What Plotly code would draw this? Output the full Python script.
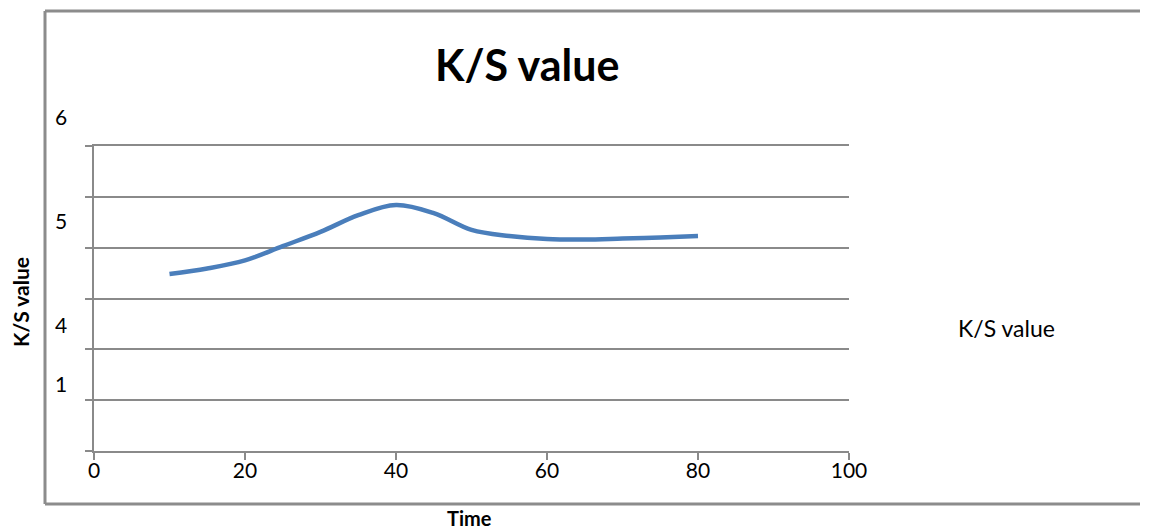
import plotly.graph_objects as go

# Data
time_vals = [10, 15, 20, 25, 30, 35, 40, 45, 50, 55, 60, 65, 70, 75, 80]
ks_vals = [3.48, 3.59, 3.75, 4.03, 4.31, 4.64, 4.84, 4.68, 4.35, 4.23, 4.17, 4.16, 4.18, 4.20, 4.23]
x_ticks = [0, 20, 40, 60, 80, 100]
y_label_text = ["6", "5", "4", "1"]
y_label_pos = [6.58, 4.54, 2.48, 1.32]
series_name = "K/S value"

W, H = 1149, 529
L, R, T, B = 94, 849, 146, 451
FONT = "Lato"
GRID = "#8a8a8a"
Y_MAX = 6

fig = go.Figure()
fig.add_trace(go.Scatter(x=time_vals, y=ks_vals, mode="lines", name=series_name,
                         line=dict(color="#4a7ebb", width=4.5, shape="spline", smoothing=1.0),
                         showlegend=False))

def px_x(p):
    return (p - L) / (R - L)

def px_y(p):
    return (B - p) / (B - T)

annotations = []
for t, v in zip(y_label_text, y_label_pos):
    annotations.append(dict(text=t, x=px_x(61), xref="paper", y=v / Y_MAX, yref="paper",
                            showarrow=False, xanchor="center", yanchor="middle",
                            font=dict(family=FONT, size=21, color="#000")))
annotations += [
    dict(text="<b>K/S value</b>", x=px_x(527), y=px_y(65), xref="paper", yref="paper",
         showarrow=False, xanchor="center", yanchor="middle",
         font=dict(family=FONT, size=43, color="#000")),
    dict(text="<b>K/S value</b>", x=px_x(20), y=px_y(302), xref="paper", yref="paper",
         showarrow=False, xanchor="center", yanchor="middle", textangle=-90,
         font=dict(family=FONT, size=21, color="#000")),
    dict(text="<b>Time</b>", x=px_x(469), y=px_y(518), xref="paper", yref="paper",
         showarrow=False, xanchor="center", yanchor="middle",
         font=dict(family=FONT, size=20, color="#000")),
    dict(text=series_name, x=px_x(1006), y=px_y(328), xref="paper", yref="paper",
         showarrow=False, xanchor="center", yanchor="middle",
         font=dict(family=FONT, size=23, color="#000")),
]

border = dict(color="#8c8c8c", width=3)
x_left, x_right, y_top, y_bot = px_x(45), px_x(1140), px_y(11), px_y(504)
shapes = [
    dict(type="line", xref="paper", yref="paper", x0=x_left, x1=x_right, y0=y_top, y1=y_top, line=border, layer="below"),
    dict(type="line", xref="paper", yref="paper", x0=x_left, x1=x_right, y0=y_bot, y1=y_bot, line=border, layer="below"),
    dict(type="line", xref="paper", yref="paper", x0=x_left, x1=x_left, y0=y_bot, y1=y_top, line=border, layer="below"),
]

fig.update_layout(
    width=W, height=H, autosize=False,
    margin=dict(l=L, r=W - R, t=T, b=H - B),
    paper_bgcolor="white", plot_bgcolor="white",
    annotations=annotations,
    shapes=shapes,
    xaxis=dict(range=[0, 100], tickvals=x_ticks, showgrid=False, zeroline=False,
               showline=True, linecolor=GRID, linewidth=2, mirror=True,
               ticks="outside", ticklen=7, tickcolor=GRID, tickwidth=2,
               ticklabelstandoff=-7,
               tickfont=dict(family=FONT, size=21, color="#000")),
    yaxis=dict(range=[0, Y_MAX], dtick=1, showgrid=True, gridcolor=GRID, gridwidth=2,
               zeroline=False, showline=True, linecolor=GRID, linewidth=2,
               ticks="outside", ticklen=7, tickcolor=GRID, tickwidth=2,
               showticklabels=False),
)

fig.write_html("out.html")
